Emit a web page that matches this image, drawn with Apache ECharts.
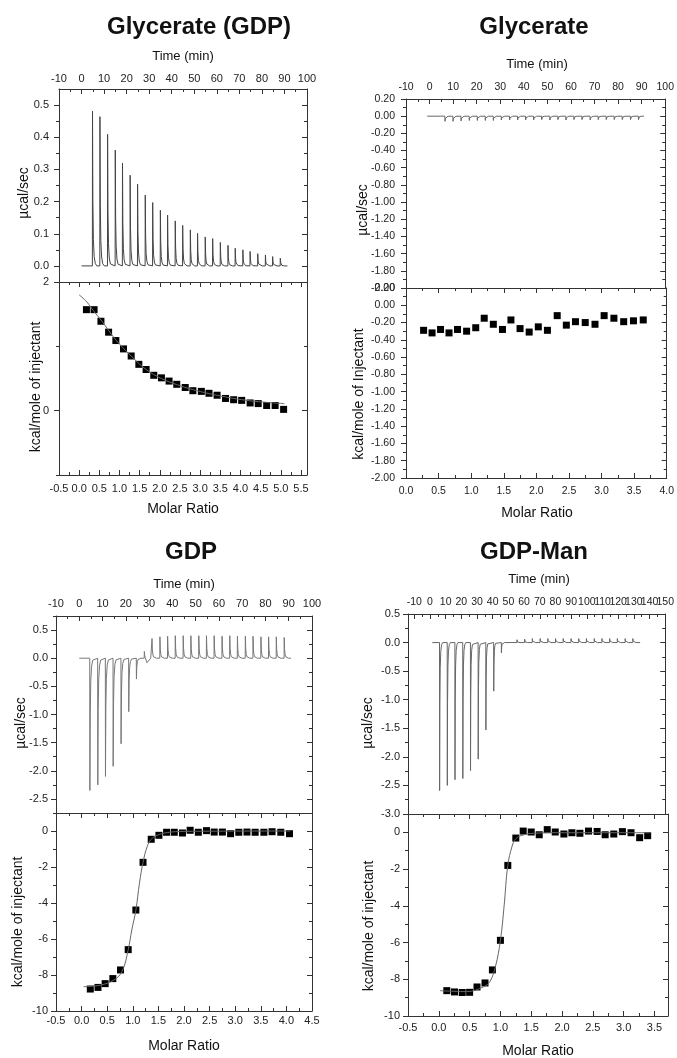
<!DOCTYPE html>
<html><head><meta charset="utf-8">
<script src="https://cdn.jsdelivr.net/npm/echarts@6/dist/echarts.min.js"></script>
<style>html,body{margin:0;padding:0;background:#fff}#c{width:677px;height:1058px}</style>
</head><body><div id="c"></div>
<script>
// ================= DATA =================
const panelTitles = ['Glycerate (GDP)', 'Glycerate', 'GDP', 'GDP-Man'];

// tick values
const timeMajors100 = [-10, 0, 10, 20, 30, 40, 50, 60, 70, 80, 90, 100];
const timeMinors100 = [-5, 5, 15, 25, 35, 45, 55, 65, 75, 85, 95];
const timeMajors150 = [-10, 0, 10, 20, 30, 40, 50, 60, 70, 80, 90, 100, 110, 120, 130, 140, 150];
const timeLabels150a = [-10, 10, 30, 50, 70, 90, 110, 130, 150];
const timeLabels150b = [0, 20, 40, 60, 80, 100, 120, 140];
const timeMinors150 = [-5, 5, 15, 25, 35, 45, 55, 65, 75, 85, 95, 105, 115, 125, 135, 145];

const p1RawMajors = [0, 0.1, 0.2, 0.3, 0.4, 0.5];
const p1RawMinors = [0.05, 0.15, 0.25, 0.35, 0.45];
const p1HeatMajors = [0, 2];
const p1HeatMinors = [-1, 1];
const p1RatioMajors = [-0.5, 0, 0.5, 1, 1.5, 2, 2.5, 3, 3.5, 4, 4.5, 5, 5.5];
const p1RatioMinors = [-0.25, 0.25, 0.75, 1.25, 1.75, 2.25, 2.75, 3.25, 3.75, 4.25, 4.75, 5.25];

const p2Majors = [-2.0, -1.8, -1.6, -1.4, -1.2, -1.0, -0.8, -0.6, -0.4, -0.2, 0, 0.2];
const p2Minors = [-1.9, -1.7, -1.5, -1.3, -1.1, -0.9, -0.7, -0.5, -0.3, -0.1, 0.1];
const p2RatioMajors = [0, 0.5, 1, 1.5, 2, 2.5, 3, 3.5, 4];
const p2RatioMinors = [0.25, 0.75, 1.25, 1.75, 2.25, 2.75, 3.25, 3.75];

const p3RawMajors = [-2.5, -2, -1.5, -1, -0.5, 0, 0.5];
const p3RawMinors = [-2.75, -2.25, -1.75, -1.25, -0.75, -0.25, 0.25, 0.75];
const p4RawMajors = [-3, -2.5, -2, -1.5, -1, -0.5, 0, 0.5];
const p4RawMinors = [-2.75, -2.25, -1.75, -1.25, -0.75, -0.25, 0.25];
const heatMajors10 = [-10, -8, -6, -4, -2, 0];
const heatMinors10 = [-9, -7, -5, -3, -1, 1];
const p3RatioMajors = [-0.5, 0, 0.5, 1, 1.5, 2, 2.5, 3, 3.5, 4, 4.5];
const p3RatioMinors = [-0.25, 0.25, 0.75, 1.25, 1.75, 2.25, 2.75, 3.25, 3.75, 4.25];
const p4RatioMajors = [-0.5, 0, 0.5, 1, 1.5, 2, 2.5, 3, 3.5];
const p4RatioMinors = [-0.25, 0.25, 0.75, 1.25, 1.75, 2.25, 2.75, 3.25];

// Panel 1 : Glycerate (GDP)
const p1Times = [4.8, 8.1, 11.5, 14.9, 18.1, 21.5, 24.8, 28.2, 31.5, 34.9, 38.1, 41.5, 44.8, 48.2, 51.4, 54.8, 58.1, 61.5, 64.9, 68.1, 71.5, 74.7, 78.1, 81.5, 84.7, 88.1];
const p1Peaks = [0.481, 0.464, 0.409, 0.360, 0.320, 0.282, 0.254, 0.220, 0.197, 0.173, 0.158, 0.140, 0.126, 0.112, 0.101, 0.090, 0.085, 0.073, 0.064, 0.055, 0.050, 0.045, 0.038, 0.034, 0.029, 0.024];
const p1Span = [0, 91.3];
const p1Ratio = [0.18, 0.37, 0.54, 0.73, 0.91, 1.10, 1.29, 1.48, 1.66, 1.85, 2.04, 2.23, 2.42, 2.63, 2.82, 3.03, 3.22, 3.42, 3.63, 3.83, 4.03, 4.24, 4.44, 4.65, 4.86, 5.07];
const p1Heat = [1.57, 1.57, 1.39, 1.22, 1.09, 0.96, 0.85, 0.72, 0.64, 0.55, 0.51, 0.46, 0.41, 0.36, 0.31, 0.30, 0.27, 0.24, 0.19, 0.17, 0.16, 0.12, 0.11, 0.08, 0.08, 0.02];
const p1FitX = [0.0, 0.19, 0.37, 0.54, 0.91, 1.29, 1.66, 2.04, 2.42, 2.82, 3.22, 3.63, 4.03, 4.44, 5.09];
const p1FitY = [1.80, 1.69, 1.54, 1.41, 1.10, 0.85, 0.64, 0.50, 0.405, 0.327, 0.265, 0.213, 0.171, 0.140, 0.109];

// Panel 2 : Glycerate
const p2Times = [3.5, 6.5, 9.9, 13.3, 16.8, 20.2, 23.6, 27.0, 30.4, 33.9, 37.3, 40.7, 44.1, 47.5, 51.0, 54.4, 57.8, 61.2, 64.6, 68.1, 71.5, 74.9, 78.3, 81.7, 85.2, 88.6];
const p2Peaks = [0.02, -0.06, -0.06, -0.055, -0.05, -0.05, -0.05, -0.05, -0.045, -0.045, -0.045, -0.045, -0.045, -0.04, -0.045, -0.04, -0.045, -0.04, -0.04, -0.045, -0.04, -0.04, -0.04, -0.04, -0.04, -0.04];
const p2Span = [-1, 91];
const p2Ratio = [0.27, 0.40, 0.53, 0.66, 0.79, 0.93, 1.07, 1.20, 1.34, 1.48, 1.61, 1.75, 1.89, 2.03, 2.17, 2.32, 2.46, 2.60, 2.75, 2.90, 3.04, 3.19, 3.34, 3.49, 3.64];
const p2Heat = [-0.29, -0.32, -0.28, -0.32, -0.28, -0.30, -0.26, -0.15, -0.22, -0.28, -0.17, -0.27, -0.31, -0.25, -0.29, -0.12, -0.23, -0.19, -0.20, -0.22, -0.12, -0.15, -0.19, -0.18, -0.17];

// Panel 3 : GDP
const p3Times = [4.5, 7.9, 11.2, 14.5, 17.9, 21.2, 24.5, 27.9, 31.2, 34.6, 37.9, 41.2, 44.6, 47.9, 51.3, 54.6, 57.9, 61.3, 64.6, 67.9, 71.3, 74.6, 78.0, 81.3, 84.6, 88.0];
const p3Peaks = [-2.35, -2.25, -2.10, -1.92, -1.52, -0.95, -0.37, 0.12, 0.35, 0.38, 0.39, 0.40, 0.40, 0.40, 0.40, 0.40, 0.40, 0.39, 0.40, 0.39, 0.39, 0.39, 0.38, 0.38, 0.38, 0.37];
const p3Tails = [0, 0, 0, 0, 0, 0, 0, -0.08, 0, 0, 0, 0, 0, 0, 0, 0, 0, 0, 0, 0, 0, 0, 0, 0, 0, 0];
const p3Span = [0, 91];
const p3Ratio = [0.17, 0.32, 0.46, 0.61, 0.76, 0.91, 1.06, 1.20, 1.36, 1.51, 1.66, 1.81, 1.97, 2.12, 2.28, 2.44, 2.59, 2.75, 2.91, 3.07, 3.23, 3.39, 3.56, 3.72, 3.89, 4.06];
const p3Heat = [-8.78, -8.69, -8.48, -8.20, -7.72, -6.59, -4.39, -1.74, -0.46, -0.24, -0.07, -0.07, -0.11, 0.04, -0.07, 0.02, -0.06, -0.06, -0.15, -0.07, -0.06, -0.07, -0.07, -0.04, -0.07, -0.15];
const p3FitX = [0.04, 0.37, 0.63, 0.79, 0.91, 0.98, 1.06, 1.13, 1.20, 1.28, 1.36, 1.47, 1.67, 2.0, 4.08];
const p3FitY = [-8.65, -8.56, -8.28, -7.8, -6.6, -5.5, -4.4, -2.9, -1.74, -0.87, -0.46, -0.24, -0.09, -0.02, 0.0];

// Panel 4 : GDP-Man
const p4Times = [6.1, 11.0, 15.9, 20.9, 25.8, 30.7, 35.6, 40.6, 45.5, 50.4, 55.4, 60.3, 65.2, 70.2, 75.1, 80.0, 84.9, 89.9, 94.8, 99.7, 104.7, 109.6, 114.5, 119.4, 124.4, 129.3];
const p4Peaks = [-2.59, -2.50, -2.40, -2.38, -2.24, -2.04, -1.53, -0.85, -0.18, 0.03, 0.05, 0.06, 0.07, 0.07, 0.07, 0.07, 0.07, 0.07, 0.07, 0.07, 0.07, 0.07, 0.07, 0.07, 0.07, 0.07];
const p4Span = [1.5, 134];
const p4Ratio = [0.13, 0.255, 0.38, 0.50, 0.62, 0.75, 0.87, 1.00, 1.12, 1.25, 1.37, 1.50, 1.63, 1.76, 1.89, 2.03, 2.16, 2.29, 2.43, 2.57, 2.70, 2.84, 2.98, 3.12, 3.26, 3.39];
const p4Heat = [-8.62, -8.69, -8.72, -8.71, -8.42, -8.20, -7.49, -5.88, -1.80, -0.31, 0.07, 0.02, -0.13, 0.15, 0.02, -0.09, -0.02, -0.05, 0.07, 0.05, -0.13, -0.09, 0.04, -0.02, -0.29, -0.18];
const p4FitX = [0.02, 0.46, 0.73, 0.83, 0.92, 1.00, 1.06, 1.12, 1.19, 1.25, 1.35, 1.54, 1.92, 3.44];
const p4FitY = [-8.62, -8.67, -8.40, -8.12, -7.3, -5.88, -4.0, -1.8, -0.75, -0.35, -0.16, -0.05, -0.02, -0.02];

// ================= BUILD =================
const FONT = '"Liberation Sans", Arial, Helvetica, sans-serif';
const AX = '#333';
const option = {animation: false, backgroundColor: '#fff', grid: [], xAxis: [], yAxis: [], series: [], graphic: []};

function addGrid(l, t, w, h) {
  option.grid.push({left: l, top: t, width: w, height: h});
  return option.grid.length - 1;
}
// adds a major axis (with optional labels) and a minor-tick axis; returns index of major
function addAxis(kind, gi, position, min, max, majors, minors, opts) {
  const arr = option[kind];
  const base = {type: 'value', gridIndex: gi, position: position, min: min, max: max, silent: true,
    splitLine: {show: false}, axisPointer: {show: false}};
  const labelCfg = (vals) => ({show: !!vals, customValues: vals || majors, formatter: opts.fmt,
      showMinLabel: true, showMaxLabel: true, hideOverlap: false,
      fontSize: opts.fs || 11, color: '#222', fontFamily: FONT, margin: opts.margin || 6});
  const labelSets = opts.labelSets || [opts.labels];
  arr.push(Object.assign({}, base, {
    axisLine: {show: true, onZero: false, lineStyle: {color: AX, width: 1}},
    axisTick: {show: majors.length > 0, inside: opts.inside, length: 5, customValues: majors, lineStyle: {color: AX, width: 1}},
    axisLabel: labelCfg(labelSets[0])
  }));
  const idx = arr.length - 1;
  // additional label-only axes (to avoid automatic hiding of crowded labels)
  for (let k = 1; k < labelSets.length; k++) {
    arr.push(Object.assign({}, base, {
      axisLine: {show: false, onZero: false}, axisTick: {show: false},
      axisLabel: labelCfg(labelSets[k])
    }));
  }
  if (minors && minors.length) {
    arr.push(Object.assign({}, base, {
      axisLine: {show: false, onZero: false},
      axisTick: {show: true, inside: opts.inside, length: 3, customValues: minors, lineStyle: {color: AX, width: 1}},
      axisLabel: {show: false}
    }));
  }
  return idx;
}

const SPIKE_SHAPE = [[0, 0], [0.06, 1], [0.22, 0.42], [0.45, 0.17], [0.8, 0.06], [1.3, 0.015], [2.0, 0]];
function thermogram(span, times, peaks, tails) {
  const pts = [[span[0], 0]];
  times.forEach((t, i) => {
    const p = peaks[i];
    const tail = tails ? tails[i] : 0;
    if (tail) {
      pts.push([t, 0], [t + 0.06, p], [t + 0.22, p * 0.4], [t + 0.45, p * 0.1], [t + 1.2, tail], [t + 2.8, 0]);
    } else {
      SPIKE_SHAPE.forEach(s => pts.push([t + s[0], p * s[1]]));
    }
  });
  pts.push([span[1], 0]);
  return pts;
}
const zip = (a, b) => a.map((v, i) => [v, b[i]]);

function text(x, y, str, size, bold, rot) {
  option.graphic.push({type: 'text', x: x, y: y, rotation: rot ? Math.PI / 2 : 0, silent: true,
    style: {text: str, fill: '#111', font: (bold ? 'bold ' : '') + size + 'px ' + FONT,
      textAlign: 'center', textVerticalAlign: 'middle'}});
}

const fmtInt = v => String(Math.round(v));
const fmt1 = v => v.toFixed(1);
const fmt2 = v => v.toFixed(2);

function panel(cfg) {
  // top (raw) grid
  const gT = addGrid(cfg.left, cfg.top, cfg.width, cfg.mid - cfg.top);
  const xT = addAxis('xAxis', gT, 'top', cfg.tMin, cfg.tMax, cfg.tMaj, cfg.tMin2,
    {inside: true, labels: cfg.tMaj, labelSets: cfg.tLabelSets, fmt: fmtInt, fs: cfg.tfs, margin: cfg.tMargin});
  const yT = addAxis('yAxis', gT, 'left', cfg.rMin, cfg.rMax, cfg.rMaj, cfg.rMin2, {inside: false, labels: cfg.rMaj, fmt: cfg.rFmt, fs: cfg.yfs, margin: cfg.yMargin});
  addAxis('yAxis', gT, 'right', cfg.rMin, cfg.rMax, cfg.rMaj, cfg.rMin2, {inside: true});
  // bottom (integrated) grid
  const gB = addGrid(cfg.left, cfg.mid, cfg.width, cfg.bottom - cfg.mid);
  const xB = addAxis('xAxis', gB, 'bottom', cfg.mMin, cfg.mMax, cfg.mMaj, cfg.mMin2, {inside: true, labels: cfg.mMaj, fmt: fmt1, fs: cfg.xfs, margin: cfg.xMargin});
  addAxis('xAxis', gB, 'top', cfg.mMin, cfg.mMax, cfg.mMaj, cfg.mMin2, {inside: true});
  const yB = addAxis('yAxis', gB, 'left', cfg.hMin, cfg.hMax, cfg.hMaj, cfg.hMin2, {inside: false, labels: cfg.hLab, fmt: cfg.hFmt, fs: cfg.yfs, margin: cfg.yMargin});
  addAxis('yAxis', gB, 'right', cfg.hMin, cfg.hMax, cfg.hMaj, cfg.hMin2, {inside: true});

  option.series.push({type: 'line', xAxisIndex: xT, yAxisIndex: yT, data: cfg.raw, showSymbol: false,
    lineStyle: {color: cfg.rawColor || '#555', width: 1}, silent: true, clip: true});
  if (cfg.fit) option.series.push({type: 'line', xAxisIndex: xB, yAxisIndex: yB, data: cfg.fit, showSymbol: false, smooth: 0.4,
    lineStyle: {color: '#666', width: 1}, silent: true});
  option.series.push({type: 'scatter', xAxisIndex: xB, yAxisIndex: yB, data: cfg.pts, symbol: 'rect', symbolSize: 7,
    itemStyle: {color: '#000', opacity: 1}, silent: true});
}

panel({left: 59, top: 89, width: 248, mid: 282, bottom: 475,
  tMin: -10, tMax: 100, tMaj: timeMajors100, tMin2: timeMinors100, tMargin: 5, tfs: 11,
  rMin: -0.05, rMax: 0.55, rMaj: p1RawMajors, rMin2: p1RawMinors, rFmt: fmt1, yfs: 11, yMargin: 10,
  mMin: -0.5, mMax: 5.65, mMaj: p1RatioMajors, mMin2: p1RatioMinors, xfs: 11, xMargin: 8,
  hMin: -1, hMax: 2, hMaj: p1HeatMajors, hMin2: p1HeatMinors, hLab: p1HeatMajors, hFmt: fmtInt,
  raw: thermogram(p1Span, p1Times, p1Peaks), rawColor: '#444', pts: zip(p1Ratio, p1Heat), fit: zip(p1FitX, p1FitY)});

panel({left: 406, top: 99, width: 263, mid: 288, bottom: 478,
  tMin: -10, tMax: 100, tMaj: timeMajors100, tMin2: timeMinors100, tMargin: 6, tfs: 10.5,
  rMin: -2.0, rMax: 0.2, rMaj: p2Majors, rMin2: p2Minors, rFmt: fmt2, yfs: 10.5, yMargin: 11,
  mMin: 0, mMax: 4, mMaj: p2RatioMajors, mMin2: p2RatioMinors, xfs: 10.5, xMargin: 8,
  hMin: -2.0, hMax: 0.2, hMaj: p2Majors, hMin2: p2Minors, hLab: p2Majors, hFmt: fmt2,
  raw: thermogram(p2Span, p2Times, p2Peaks), rawColor: '#666', pts: zip(p2Ratio, p2Heat), fit: null});

panel({left: 56, top: 616, width: 256, mid: 813, bottom: 1011,
  tMin: -10, tMax: 100, tMaj: timeMajors100, tMin2: timeMinors100, tMargin: 7, tfs: 11,
  rMin: -2.75, rMax: 0.75, rMaj: p3RawMajors, rMin2: p3RawMinors, rFmt: fmt1, yfs: 11, yMargin: 8,
  mMin: -0.5, mMax: 4.5, mMaj: p3RatioMajors, mMin2: p3RatioMinors, xfs: 11, xMargin: 4,
  hMin: -10, hMax: 1, hMaj: heatMajors10, hMin2: heatMinors10, hLab: heatMajors10, hFmt: fmtInt,
  raw: thermogram(p3Span, p3Times, p3Peaks, p3Tails), rawColor: '#777', pts: zip(p3Ratio, p3Heat), fit: zip(p3FitX, p3FitY)});

panel({left: 408, top: 614, width: 260, mid: 814, bottom: 1016,
  tMin: -14, tMax: 150, tMaj: timeMajors150, tMin2: timeMinors150, tLabelSets: [timeLabels150a, timeLabels150b], tMargin: 6, tfs: 10.5,
  rMin: -3, rMax: 0.5, rMaj: p4RawMajors, rMin2: p4RawMinors, rFmt: fmt1, yfs: 11, yMargin: 8,
  mMin: -0.5, mMax: 3.72, mMaj: p4RatioMajors, mMin2: p4RatioMinors, xfs: 11, xMargin: 6,
  hMin: -10, hMax: 1, hMaj: heatMajors10, hMin2: heatMinors10, hLab: heatMajors10, hFmt: fmtInt,
  raw: thermogram(p4Span, p4Times, p4Peaks), rawColor: '#666', pts: zip(p4Ratio, p4Heat), fit: zip(p4FitX, p4FitY)});

// titles & axis names
text(199, 27, panelTitles[0], 24, true);
text(534, 27, panelTitles[1], 24, true);
text(191, 552, panelTitles[2], 24, true);
text(534, 552, panelTitles[3], 24, true);

text(183, 56, 'Time (min)', 13);
text(537, 64, 'Time (min)', 13);
text(184, 584, 'Time (min)', 13);
text(539, 579, 'Time (min)', 13);

text(183, 509, 'Molar Ratio', 14);
text(537, 513, 'Molar Ratio', 14);
text(184, 1046, 'Molar Ratio', 14);
text(538, 1051, 'Molar Ratio', 14);

text(24, 193, 'µcal/sec', 14, false, true);
text(363, 210, 'µcal/sec', 14, false, true);
text(21, 723, 'µcal/sec', 14, false, true);
text(368, 723, 'µcal/sec', 14, false, true);

text(36, 387, 'kcal/mole of injectant', 14, false, true);
text(359, 394, 'kcal/mole of Injectant', 14, false, true);
text(18, 922, 'kcal/mole of injectant', 14, false, true);
text(369, 926, 'kcal/mole of injectant', 14, false, true);

const chart = echarts.init(document.getElementById('c'), null, {renderer: 'canvas'});
chart.setOption(option);
</script></body></html>
